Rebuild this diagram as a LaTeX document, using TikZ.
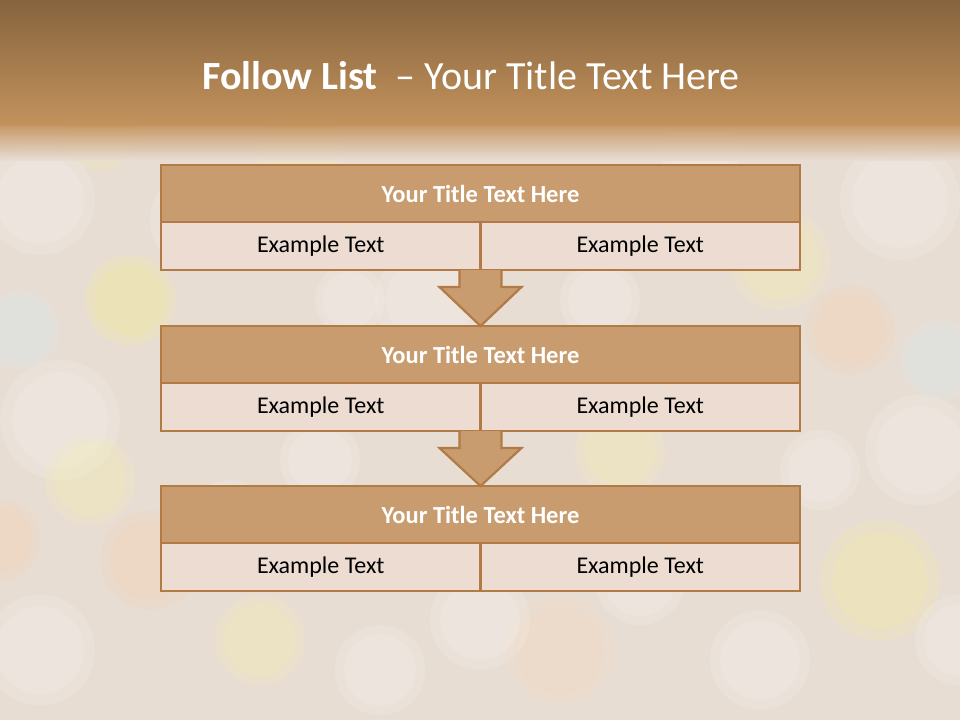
\documentclass[tikz,border=0pt]{standalone}
\usepackage{fontspec}
\setmainfont{Carlito}
\usetikzlibrary{calc}
\definecolor{bandtop}{HTML}{86643E}
\definecolor{bandbot}{HTML}{C3925C}
\definecolor{bgpale}{HTML}{E8DDD3}
\definecolor{tanfill}{HTML}{C99C6F}
\definecolor{tanline}{HTML}{B27A45}
\definecolor{rowfill}{HTML}{ECDCD2}
\tikzset{
  titlerow/.style={draw=tanline, fill=tanfill, line width=2.4pt, outer sep=0pt, minimum width=639pt, minimum height=57pt, inner sep=0pt, font=\fontsize{24.5}{28}\selectfont\bfseries, text=white},
  exrow/.style={draw=tanline, fill=rowfill, line width=2.4pt, outer sep=0pt, minimum width=319.5pt, minimum height=48pt, inner sep=0pt, font=\fontsize{24}{28}\selectfont, text=black},
  downarrow/.style={draw=tanline, fill=tanfill, line width=2.2pt, line join=miter},
  bokeh/.style={fill=#1, opacity=0.13}
}
\begin{document}
\begin{tikzpicture}[x=1pt,y=-1pt]
\useasboundingbox (0,0) rectangle (960,720);
% background
\fill[bgpale] (0,0) rectangle (960,720);
\foreach \cx/\cy/\r/\c in {40/200/55/white, 130/300/45/yellow!60, 60/420/60/white, 150/560/50/orange!40, 40/650/55/white, 260/640/45/yellow!40, 900/200/60/white, 850/330/45/orange!40, 920/450/55/white, 880/580/60/yellow!50, 760/660/50/white, 560/650/55/orange!30, 380/670/45/white, 700/150/40/white, 300/150/45/yellow!40, 600/300/40/white, 350/300/35/white, 620/450/45/yellow!40, 320/460/40/white, 480/620/50/white, 100/130/40/yellow!50, 960/640/45/white, 0/540/40/orange!40, 200/220/50/white, 780/260/50/yellow!40, 820/470/40/white, 90/480/45/yellow!40, 640/580/45/white, 430/300/55/white, 20/330/40/cyan!20, 940/360/40/cyan!20, 720/540/35/orange!40, 230/520/40/white}
{
  \fill[bokeh=\c] (\cx,\cy) circle (\r);
  \fill[bokeh=\c] (\cx,\cy) circle (0.8*\r);
}
\shade[top color=bandtop, bottom color=bandbot] (0,0) rectangle (960,125);
\shade[top color=bandbot, bottom color=bgpale, opacity=0.9] (0,125) rectangle (960,160);
% title
\node (title) at (471,76) {\fontsize{40}{46}\selectfont\color{white}\textbf{Follow List}\ \ – Your Title Text Here};
% boxes
\node[titlerow] (t1) at (480.5,193.5) {Your Title Text Here};
\node[exrow, anchor=north west] (e1a) at (t1.south west) {Example Text};
\node[exrow, anchor=north east] (e1b) at (t1.south east) {Example Text};
\node[titlerow] (t2) at (480.5,354.5) {Your Title Text Here};
\node[exrow, anchor=north west] (e2a) at (t2.south west) {Example Text};
\node[exrow, anchor=north east] (e2b) at (t2.south east) {Example Text};
\node[titlerow] (t3) at (480.5,514.5) {Your Title Text Here};
\node[exrow, anchor=north west] (e3a) at (t3.south west) {Example Text};
\node[exrow, anchor=north east] (e3b) at (t3.south east) {Example Text};
% arrows
\coordinate (a1) at (t1.center |- e1a.south);
\coordinate (a2) at (t2.center |- e2a.south);
\draw[downarrow] ($(a1)+(-21,0)$) -- ($(a1)+(-21,17)$) -- ($(a1)+(-41,17)$) -- (t2.north) -- ($(a1)+(41,17)$) -- ($(a1)+(21,17)$) -- ($(a1)+(21,0)$);
\draw[downarrow] ($(a2)+(-21,0)$) -- ($(a2)+(-21,17)$) -- ($(a2)+(-41,17)$) -- (t3.north) -- ($(a2)+(41,17)$) -- ($(a2)+(21,17)$) -- ($(a2)+(21,0)$);
\draw[tanline, line width=2.4pt] (t2.north west) -- (t2.north east);
\draw[tanline, line width=2.4pt] (t3.north west) -- (t3.north east);
\end{tikzpicture}
\end{document}
